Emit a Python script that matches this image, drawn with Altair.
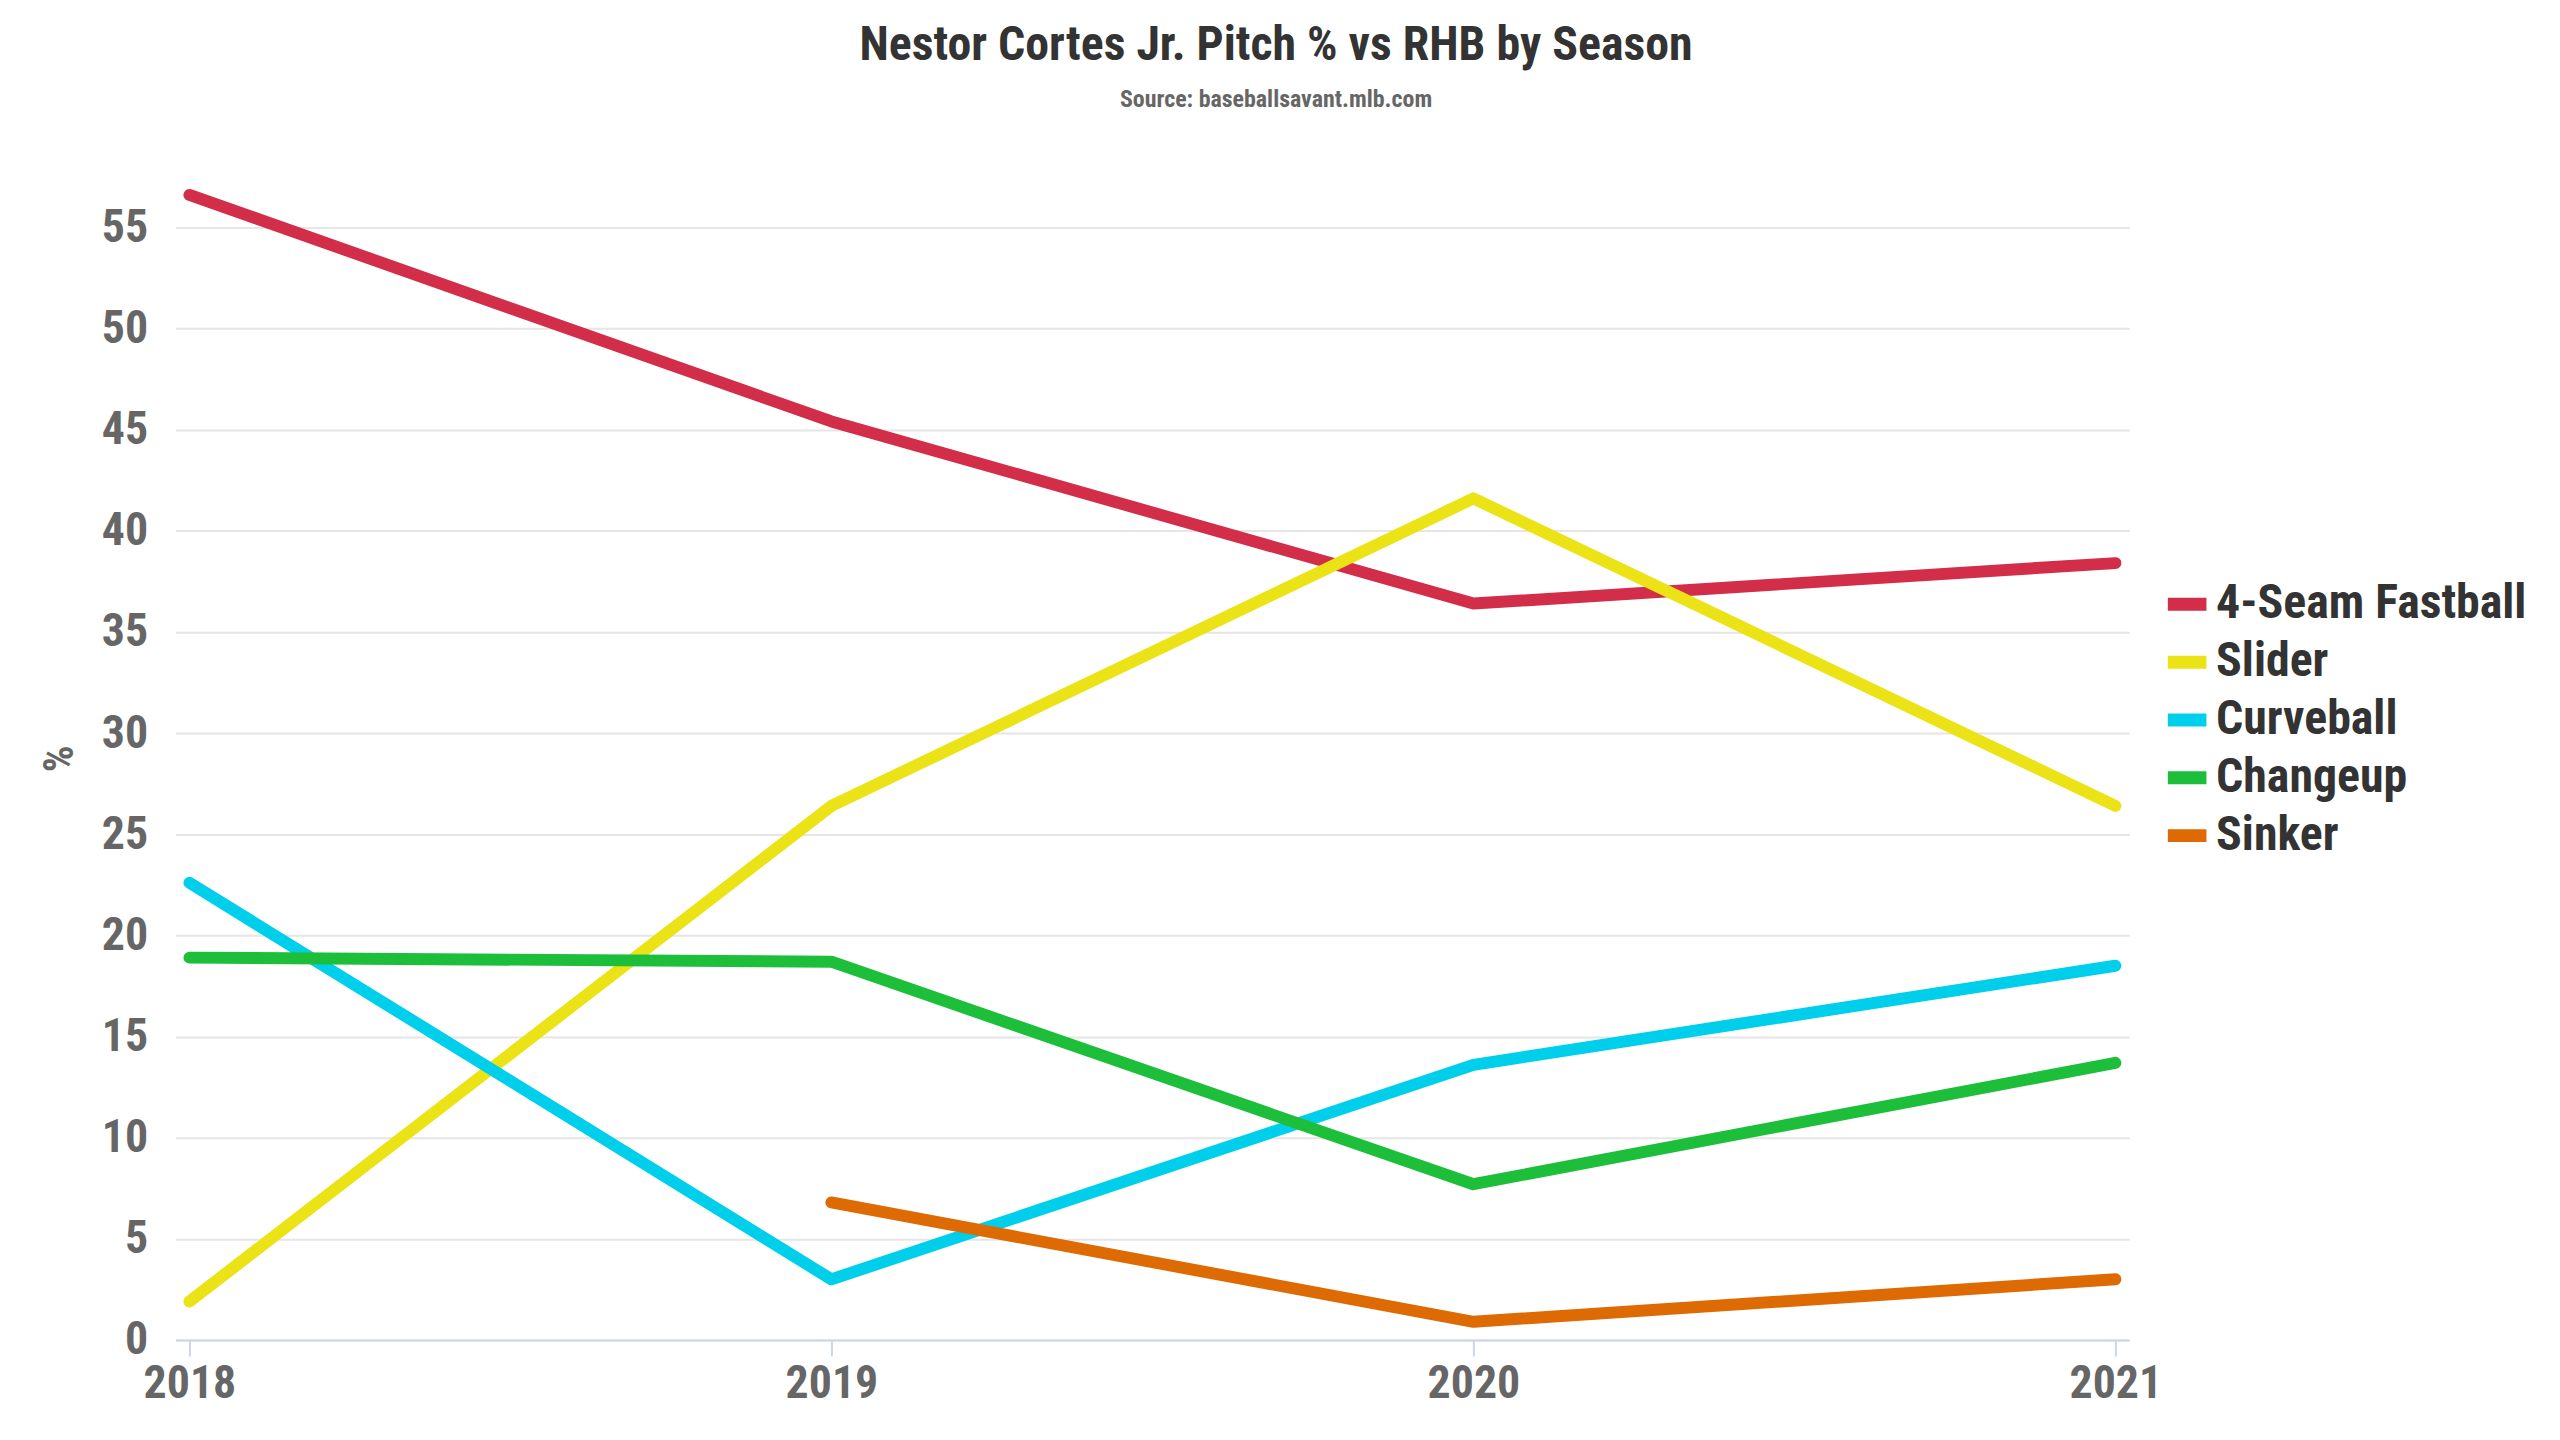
import altair as alt
import pandas as pd

seasons = [2018, 2019, 2020, 2021]
pitches = ["4-Seam Fastball", "Slider", "Curveball", "Changeup", "Sinker"]
colors = ["#d22d49", "#ebe316", "#00cfec", "#1dbe3a", "#de6a04"]
fastball = [56.6, 45.4, 36.4, 38.4]
slider = [1.9, 26.4, 41.6, 26.4]
curveball = [22.6, 3.0, 13.6, 18.5]
changeup = [18.9, 18.7, 7.7, 13.7]
sinker = [None, 6.8, 0.9, 3.0]

rows = []
for name, vals in zip(pitches, [fastball, slider, curveball, changeup, sinker]):
    for s, v in zip(seasons, vals):
        if v is not None:
            rows.append({"Season": s, "Pitch": name, "Pct": v})
df = pd.DataFrame(rows)

FONT = "Roboto Condensed, Liberation Sans Narrow, DejaVu Sans Condensed, Roboto, sans-serif"

chart = alt.Chart(df).mark_line(strokeWidth=12, strokeCap="round", strokeJoin="round").encode(
    x=alt.X("Season:Q",
            scale=alt.Scale(domain=[2018, 2021], padding=14, nice=False),
            axis=alt.Axis(values=seasons, format="d", title=None, grid=False,
                          domainColor="#ccd6eb", domainWidth=2, tickColor="#ccd6eb",
                          tickWidth=2, tickSize=16, labelPadding=6,
                          labelFontSize=46, labelFontWeight="bold", labelColor="#666666",
                          labelFont=FONT)),
    y=alt.Y("Pct:Q",
            scale=alt.Scale(domain=[0, 57.5], nice=False),
            axis=alt.Axis(values=list(range(0, 60, 5)), title="%", domain=False, ticks=False,
                          gridColor="#e6e6e6", gridWidth=2, labelPadding=28,
                          labelFontSize=46, labelFontWeight="bold", labelColor="#666666",
                          labelFont=FONT, titleFont=FONT, titleFontSize=42,
                          titleColor="#666666", titleFontWeight="bold", titlePadding=20)),
    color=alt.Color("Pitch:N",
                    scale=alt.Scale(domain=pitches, range=colors),
                    sort=pitches,
                    legend=alt.Legend(title=None, orient="none", legendX=1992, legendY=403,
                                      symbolType="stroke", symbolStrokeWidth=13, symbolSize=1500,
                                      labelFont=FONT, labelFontSize=48, labelFontWeight="bold",
                                      labelColor="#333333", rowPadding=6, labelOffset=3,
                                      labelLimit=600)),
).properties(
    width=1960,
    height=1167,
    background="white",
    padding={"left": 168, "top": 167, "right": 424, "bottom": 70},
    autosize=alt.AutoSizeParams(type="none"),
    title=alt.TitleParams(
        text="Nestor Cortes Jr. Pitch % vs RHB by Season",
        subtitle="Source: baseballsavant.mlb.com",
        anchor="middle", dx=124, offset=65,
        font=FONT, fontSize=48, fontWeight="bold", color="#333333",
        subtitleFont=FONT, subtitleFontSize=24, subtitleFontWeight="bold",
        subtitleColor="#666666", subtitlePadding=18,
    ),
).configure_view(strokeWidth=0, stroke=None)

chart.save("out.html", embed_options={"renderer": "svg", "actions": False})
